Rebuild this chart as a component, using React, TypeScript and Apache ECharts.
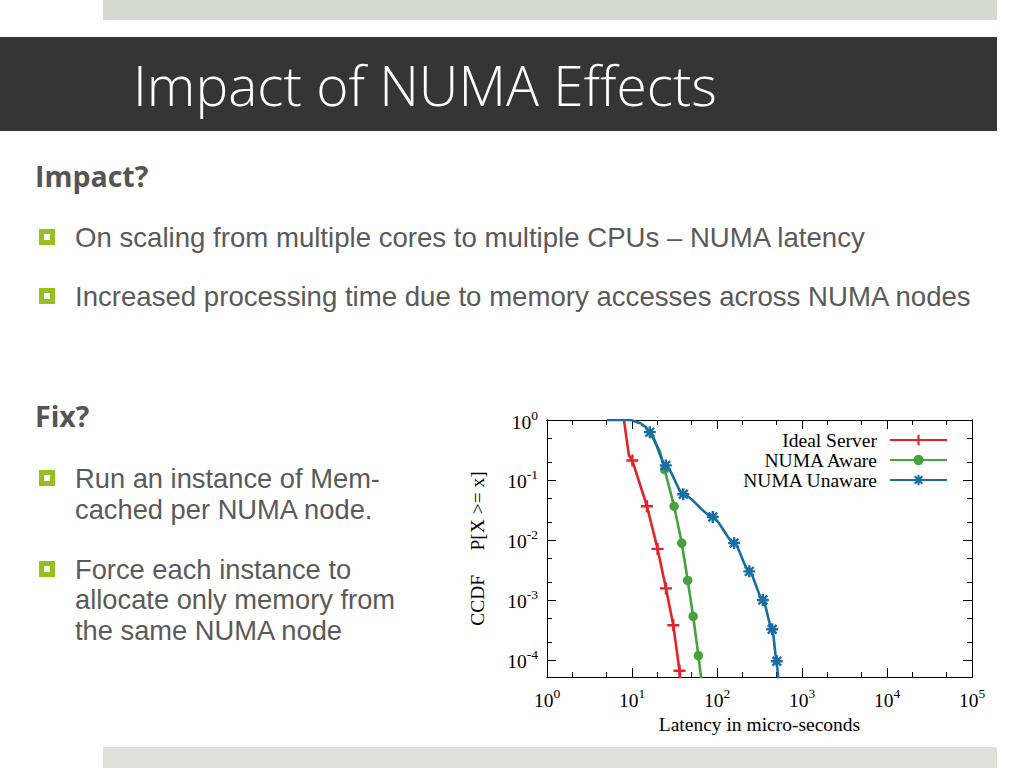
import React, { useEffect, useRef } from 'react';
import * as echarts from 'echarts';

// ---- chart data ----
const seriesNames = ['Ideal Server', 'NUMA Aware', 'NUMA Unaware'];

// Ideal Server
const idealHeadX = [8.05, 8.7, 9.2];
const idealHeadY = [1.0, 0.45, 0.255];
const idealX = [10.1, 15.0, 20.0, 25.1, 30.6, 36.2];
const idealY = [0.211, 0.0365, 0.0071, 0.00156, 0.00038, 0.000066];
const idealTailX = [37.7];
const idealTailY = [0.00004];

// NUMA Aware
const awareHeadX = [16.2, 21.3];
const awareHeadY = [0.62, 0.3];
const awareX = [24.2, 31.3, 38.5, 45.2, 52.4, 60.4];
const awareY = [0.149, 0.0365, 0.0089, 0.00212, 0.000535, 0.000118];
const awareTailX = [64.8, 66.2];
const awareTailY = [0.000052, 0.00004];

// NUMA Unaware
const unawareHeadX = [5.03, 9.6, 12.4, 14.2];
const unawareHeadY = [1.0, 1.0, 0.89, 0.78];
const unawareX = [16.2, 25.0, 40.1, 89.2, 159, 240, 346, 446, 505];
const unawareY = [0.627, 0.175, 0.058, 0.0242, 0.0089, 0.003, 0.001, 0.000325, 0.000095];
const unawareTailX = [528];
const unawareTailY = [0.00004];

const xMin = 1;
const xMax = 100000;
const yMin = 0.000052;
const yMax = 1;

const xMajorTicks = [1, 10, 100, 1000, 10000, 100000];
const xMinorTicks = [2, 5, 20, 50, 200, 500, 2000, 5000, 20000, 50000];
const yMajorTicks = [0.0001, 0.001, 0.01, 0.1, 1];
const yMinorTicks = [0.0002, 0.0005, 0.002, 0.005, 0.02, 0.05, 0.2, 0.5];

const xName = 'Latency in micro-seconds';
const yName = 'CCDF     P[X >= x]';

// ---- slide text ----
const slideTitle = 'Impact of NUMA Effects';
const heading1 = 'Impact?';
const bullets1 = [
  'On scaling from multiple cores to multiple CPUs \u2013 NUMA latency',
  'Increased processing time due to memory accesses across NUMA nodes',
];
const heading2 = 'Fix?';
const bullets2 = [
  ['Run an instance of Mem-', 'cached per NUMA node.'],
  ['Force each instance to', 'allocate only memory from', 'the same NUMA node'],
];

const RED = '#e2232a';
const GREEN = '#45a23c';
const BLUE = '#166ea5';
const SERIF = '"Liberation Serif", "Times New Roman", serif';
const SANS = '"Open Sans", Lato, sans-serif';
const BODY = '"Liberation Sans", Arial, sans-serif';
const SERIF_SIZE = 19.5;

const PLUS = 'path://M-1,-0.2H-0.2V-1H0.2V-0.2H1V0.2H0.2V1H-0.2V0.2H-1Z';
const STAR =
  'path://M-0.2,-1H0.2V1H-0.2Z M-1,-0.2H1V0.2H-1Z ' +
  'M-0.59,-0.87L0.87,0.59L0.59,0.87L-0.87,-0.59Z ' +
  'M0.59,-0.87L0.87,-0.59L-0.59,0.87L-0.87,0.59Z';

function build(hx: number[], hy: number[], mx: number[], my: number[], tx: number[], ty: number[]) {
  return [
    ...hx.map((x, i) => ({ value: [x, hy[i]], symbol: 'none' })),
    ...mx.map((x, i) => ({ value: [x, my[i]] })),
    ...tx.map((x, i) => ({ value: [x, ty[i]], symbol: 'none' })),
  ];
}

const tickFmt = (v: number) => {
  const l = Math.log10(v);
  const e = Math.round(l);
  if (Math.abs(l - e) > 1e-6) return '';
  return `{b|10}{s|${e}}`;
};

const labelRich = {
  b: { fontSize: SERIF_SIZE, fontFamily: SERIF, color: '#000', lineHeight: 24, verticalAlign: 'bottom' },
  s: { fontSize: 13.5, fontFamily: SERIF, color: '#000', lineHeight: 13, verticalAlign: 'top' },
};

// one axis per side and tick size: majors (long) and minors (short)
function tickAxis(position: string, ticks: number[], len: number, min: number, max: number, extra: any = {}) {
  return {
    type: 'log',
    logBase: 10,
    position,
    min,
    max,
    axisLine: { show: true, onZero: false, lineStyle: { color: '#000', width: 1 } },
    axisTick: { show: true, inside: true, length: len, customValues: ticks, lineStyle: { color: '#000', width: 1 } },
    minorTick: { show: false },
    splitLine: { show: false },
    axisLabel: { show: false },
    ...extra,
  };
}

function bulletSquare(x: number, y: number) {
  return [
    { type: 'rect', shape: { x, y, width: 16, height: 16 }, style: { fill: '#94c11f' } },
    { type: 'rect', shape: { x: x + 5, y: y + 5, width: 6, height: 6 }, style: { fill: '#ffffff' } },
  ];
}

// a (possibly wrapped) paragraph; y is the vertical centre of the whole block
function bodyText(lines: string[], x: number, y: number, lineHeight: number, fontSize: number) {
  return {
    type: 'text',
    x,
    y,
    style: {
      text: lines.join('\n'), fill: '#5a5a5a', fontSize, lineHeight, fontFamily: BODY,
      verticalAlign: 'middle', align: 'left',
    },
  };
}

export default function App() {
  const ref = useRef<HTMLDivElement>(null);
  useEffect(() => {
    if (!ref.current) return;
    const chart = echarts.init(ref.current, null, { renderer: 'svg' });

    const graphics: any[] = [
      { type: 'rect', shape: { x: 103, y: 0, width: 894, height: 20 }, style: { fill: '#d6d9cd' } },
      { type: 'rect', shape: { x: 0, y: 37, width: 997, height: 94 }, style: { fill: '#353535' } },
      { type: 'rect', shape: { x: 103, y: 747, width: 894, height: 21 }, style: { fill: '#dfe1d9' } },
      {
        type: 'text', x: 133, y: 84,
        style: { text: slideTitle, fill: '#ffffff', fontSize: 55, fontWeight: 300, fontFamily: SANS, verticalAlign: 'middle' },
      },
      {
        type: 'text', x: 35, y: 176,
        style: { text: heading1, fill: '#555555', fontSize: 28.5, fontWeight: 'bold', fontFamily: SANS, verticalAlign: 'middle' },
      },
      {
        type: 'text', x: 35, y: 416,
        style: { text: heading2, fill: '#555555', fontSize: 28.5, fontWeight: 'bold', fontFamily: SANS, verticalAlign: 'middle' },
      },
      ...bulletSquare(39, 229),
      bodyText([bullets1[0]], 75, 237, 31, 27.6),
      ...bulletSquare(39, 288),
      bodyText([bullets1[1]], 75, 296, 31, 27.6),
      ...bulletSquare(39, 470),
      bodyText(bullets2[0], 75, 493.5, 31, 27.3),
      ...bulletSquare(39, 561),
      bodyText(bullets2[1], 75, 599.5, 30.5, 27.3),
    ];

    const lineBase = {
      type: 'line',
      xAxisIndex: 0,
      yAxisIndex: 0,
      showSymbol: true,
      symbolKeepAspect: true,
      clip: true,
    };

    const nameStyle = { fontSize: SERIF_SIZE, fontFamily: SERIF, color: '#000' };

    chart.setOption({
      animation: false,
      backgroundColor: '#ffffff',
      graphic: graphics,
      grid: { left: 547, top: 420, width: 425, height: 257, containLabel: false },
      legend: {
        orient: 'vertical',
        align: 'right',
        right: 76,
        top: 430,
        padding: 0,
        itemWidth: 57,
        itemHeight: 13,
        itemGap: 0,
        textStyle: { fontSize: SERIF_SIZE, fontFamily: SERIF, color: '#000', lineHeight: 20, padding: [0, 8, 0, 0] },
        data: seriesNames,
      },
      xAxis: [
        tickAxis('bottom', xMajorTicks, 9, xMin, xMax, {
          name: xName,
          nameLocation: 'middle',
          nameGap: 37,
          nameTextStyle: nameStyle,
          axisLabel: { show: true, formatter: tickFmt, rich: labelRich, margin: 9 },
        }),
        tickAxis('top', xMajorTicks, 9, xMin, xMax),
        tickAxis('bottom', xMinorTicks, 5, xMin, xMax),
        tickAxis('top', xMinorTicks, 5, xMin, xMax),
      ],
      yAxis: [
        tickAxis('left', yMajorTicks, 9, yMin, yMax, {
          name: yName,
          nameLocation: 'middle',
          nameRotate: 90,
          nameGap: 60,
          nameTextStyle: nameStyle,
          axisLabel: { show: true, formatter: tickFmt, rich: labelRich, margin: 9 },
        }),
        tickAxis('right', yMajorTicks, 9, yMin, yMax),
        tickAxis('left', yMinorTicks, 5, yMin, yMax),
        tickAxis('right', yMinorTicks, 5, yMin, yMax),
      ],
      series: [
        {
          ...lineBase,
          name: seriesNames[0],
          data: build(idealHeadX, idealHeadY, idealX, idealY, idealTailX, idealTailY),
          symbol: PLUS,
          symbolSize: 12,
          lineStyle: { color: RED, width: 2.6 },
          itemStyle: { color: RED },
        },
        {
          ...lineBase,
          name: seriesNames[1],
          data: build(awareHeadX, awareHeadY, awareX, awareY, awareTailX, awareTailY),
          symbol: 'circle',
          symbolSize: 9.5,
          lineStyle: { color: GREEN, width: 2.6 },
          itemStyle: { color: GREEN },
        },
        {
          ...lineBase,
          name: seriesNames[2],
          data: build(unawareHeadX, unawareHeadY, unawareX, unawareY, unawareTailX, unawareTailY),
          symbol: STAR,
          symbolSize: 12,
          smooth: 0.25,
          smoothMonotone: 'x',
          lineStyle: { color: BLUE, width: 2.6 },
          itemStyle: { color: BLUE },
        },
      ],
    });
    return () => chart.dispose();
  }, []);
  return (
    <div
      ref={ref}
      style={{ position: 'absolute', left: 0, top: 0, width: 1024, height: 768, background: '#fff' }}
    />
  );
}
